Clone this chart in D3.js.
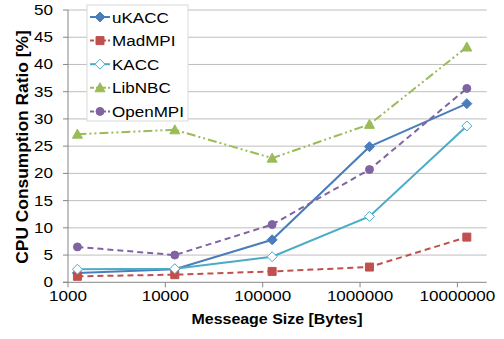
<!DOCTYPE html>
<html>
<head>
<meta charset="utf-8">
<script src="https://cdn.jsdelivr.net/npm/d3@7"></script>
<style>
  body { margin: 0; background: #fff; }
  svg text { font-family: "Liberation Sans", Arial, sans-serif; fill: #000; }
</style>
</head>
<body>
<svg id="chart" width="504" height="339"></svg>
<script>
// données
const sizes = [1250, 12500, 125000, 1250000, 12500000];
const xTicks = [1000, 10000, 100000, 1000000, 10000000];
const yTicks = [0, 5, 10, 15, 20, 25, 30, 35, 40, 45, 50];
const names = ["uKACC", "MadMPI", "KACC", "LibNBC", "OpenMPI"];
const ukacc = [1.7, 2.4, 7.8, 24.9, 32.8];
const madmpi = [1.1, 1.4, 2.0, 2.8, 8.3];
const kacc = [2.4, 2.5, 4.7, 12.1, 28.7];
const libnbc = [27.2, 28.0, 22.8, 29.0, 43.2];
const openmpi = [6.5, 5.0, 10.6, 20.7, 35.6];

const series = [
  { name: names[0], values: ukacc, color: "#4a7ebb", dash: null, marker: "diamond", fill: "#4a7ebb" },
  { name: names[1], values: madmpi, color: "#c0504d", dash: "6,4", marker: "square", fill: "#c0504d" },
  { name: names[2], values: kacc, color: "#4bacc6", dash: null, marker: "diamond", fill: "#fff" },
  { name: names[3], values: libnbc, color: "#9bbb59", dash: "9,3,2,3,2,3", marker: "triangle", fill: "#9bbb59" },
  { name: names[4], values: openmpi, color: "#8064a2", dash: "6,4", marker: "circle", fill: "#8064a2" }
];

const svg = d3.select("#chart");
const mLeft = 68, mRight = 486.7, mTop = 10, mBottom = 282.3;
const stretch = 1.1;

const x = d3.scaleLog().domain([1000, 20000000]).range([mLeft, mRight]);
const y = d3.scaleLinear().domain([0, 50]).range([mBottom, mTop]);

function stretchedText(g, txt, tx, ty, anchor, size, weight) {
  return g.append("text")
    .attr("transform", `translate(${tx},${ty}) scale(${stretch},1)`)
    .attr("text-anchor", anchor)
    .attr("font-size", size)
    .attr("font-weight", weight || "normal")
    .text(txt);
}

//grille
svg.append("g").selectAll("line")
  .data(yTicks.slice(1))
  .enter()
  .append("line")
  .attr("x1", mLeft).attr("x2", mRight)
  .attr("y1", d => y(d)).attr("y2", d => y(d))
  .attr("stroke", "#bebebe").attr("stroke-width", 1);

//axes
const axes = svg.append("g").attr("stroke", "#868686").attr("stroke-width", 1);
axes.append("line").attr("x1", mLeft).attr("x2", mLeft).attr("y1", mTop).attr("y2", mBottom);
axes.append("line").attr("x1", mLeft - 5).attr("x2", mRight).attr("y1", mBottom).attr("y2", mBottom);
axes.selectAll(".yt").data(yTicks).enter().append("line")
  .attr("x1", mLeft - 5).attr("x2", mLeft)
  .attr("y1", d => y(d)).attr("y2", d => y(d));
axes.selectAll(".xt").data(xTicks).enter().append("line")
  .attr("x1", d => x(d)).attr("x2", d => x(d))
  .attr("y1", mBottom).attr("y2", mBottom + 5);

const labels = svg.append("g");
yTicks.forEach(d => stretchedText(labels, d, mLeft - 15, y(d) + 5, "end", 15.5));
xTicks.forEach(d => stretchedText(labels, d, x(d), 301, "middle", 15.5));

//titres
stretchedText(labels, "Messeage Size [Bytes]", 277, 323.5, "middle", 14.5, "bold");
labels.append("text")
  .attr("transform", `translate(28,147) rotate(-90) scale(${stretch},1)`)
  .attr("text-anchor", "middle")
  .attr("font-size", 15.8)
  .attr("font-weight", "bold")
  .text("CPU Consumption Ratio [%]");

//marqueurs
function drawMarker(g, s, cx, cy) {
  const m = g.append("path")
    .attr("fill", s.fill)
    .attr("stroke", s.color)
    .attr("stroke-width", 1);
  if (s.marker === "diamond") {
    m.attr("d", `M${cx},${cy - 5}L${cx + 5},${cy}L${cx},${cy + 5}L${cx - 5},${cy}Z`);
  } else if (s.marker === "square") {
    m.attr("d", `M${cx - 4},${cy - 4}h8v8h-8Z`);
  } else if (s.marker === "triangle") {
    m.attr("d", `M${cx},${cy - 5}L${cx + 5},${cy + 4}L${cx - 5},${cy + 4}Z`);
  } else {
    m.attr("d", d3.symbol().type(d3.symbolCircle).size(50)()).attr("transform", `translate(${cx},${cy})`);
  }
}

const line = d3.line().x((d, i) => x(sizes[i])).y(d => y(d));
const plot = svg.append("g");
series.forEach(s => {
  plot.append("path")
    .datum(s.values)
    .attr("d", line)
    .attr("fill", "none")
    .attr("stroke", s.color)
    .attr("stroke-width", 2)
    .attr("stroke-dasharray", s.dash);
  s.values.forEach((v, i) => drawMarker(plot, s, x(sizes[i]), y(v)));
});

//légende
const legend = svg.append("g");
legend.append("rect")
  .attr("x", 87).attr("y", 5).attr("width", 101).attr("height", 116)
  .attr("fill", "#fff").attr("stroke", "#d9d9d9");
series.forEach((s, i) => {
  const ly = 17 + i * 23.6;
  legend.append("line")
    .attr("x1", 90).attr("x2", 110).attr("y1", ly).attr("y2", ly)
    .attr("stroke", s.color).attr("stroke-width", 2)
    .attr("stroke-dasharray", s.dash ? "4,2" : null);
  drawMarker(legend, s, 100, ly);
  stretchedText(legend, s.name, 112, ly + 5.5, "start", 15.5);
});
</script>
</body>
</html>
